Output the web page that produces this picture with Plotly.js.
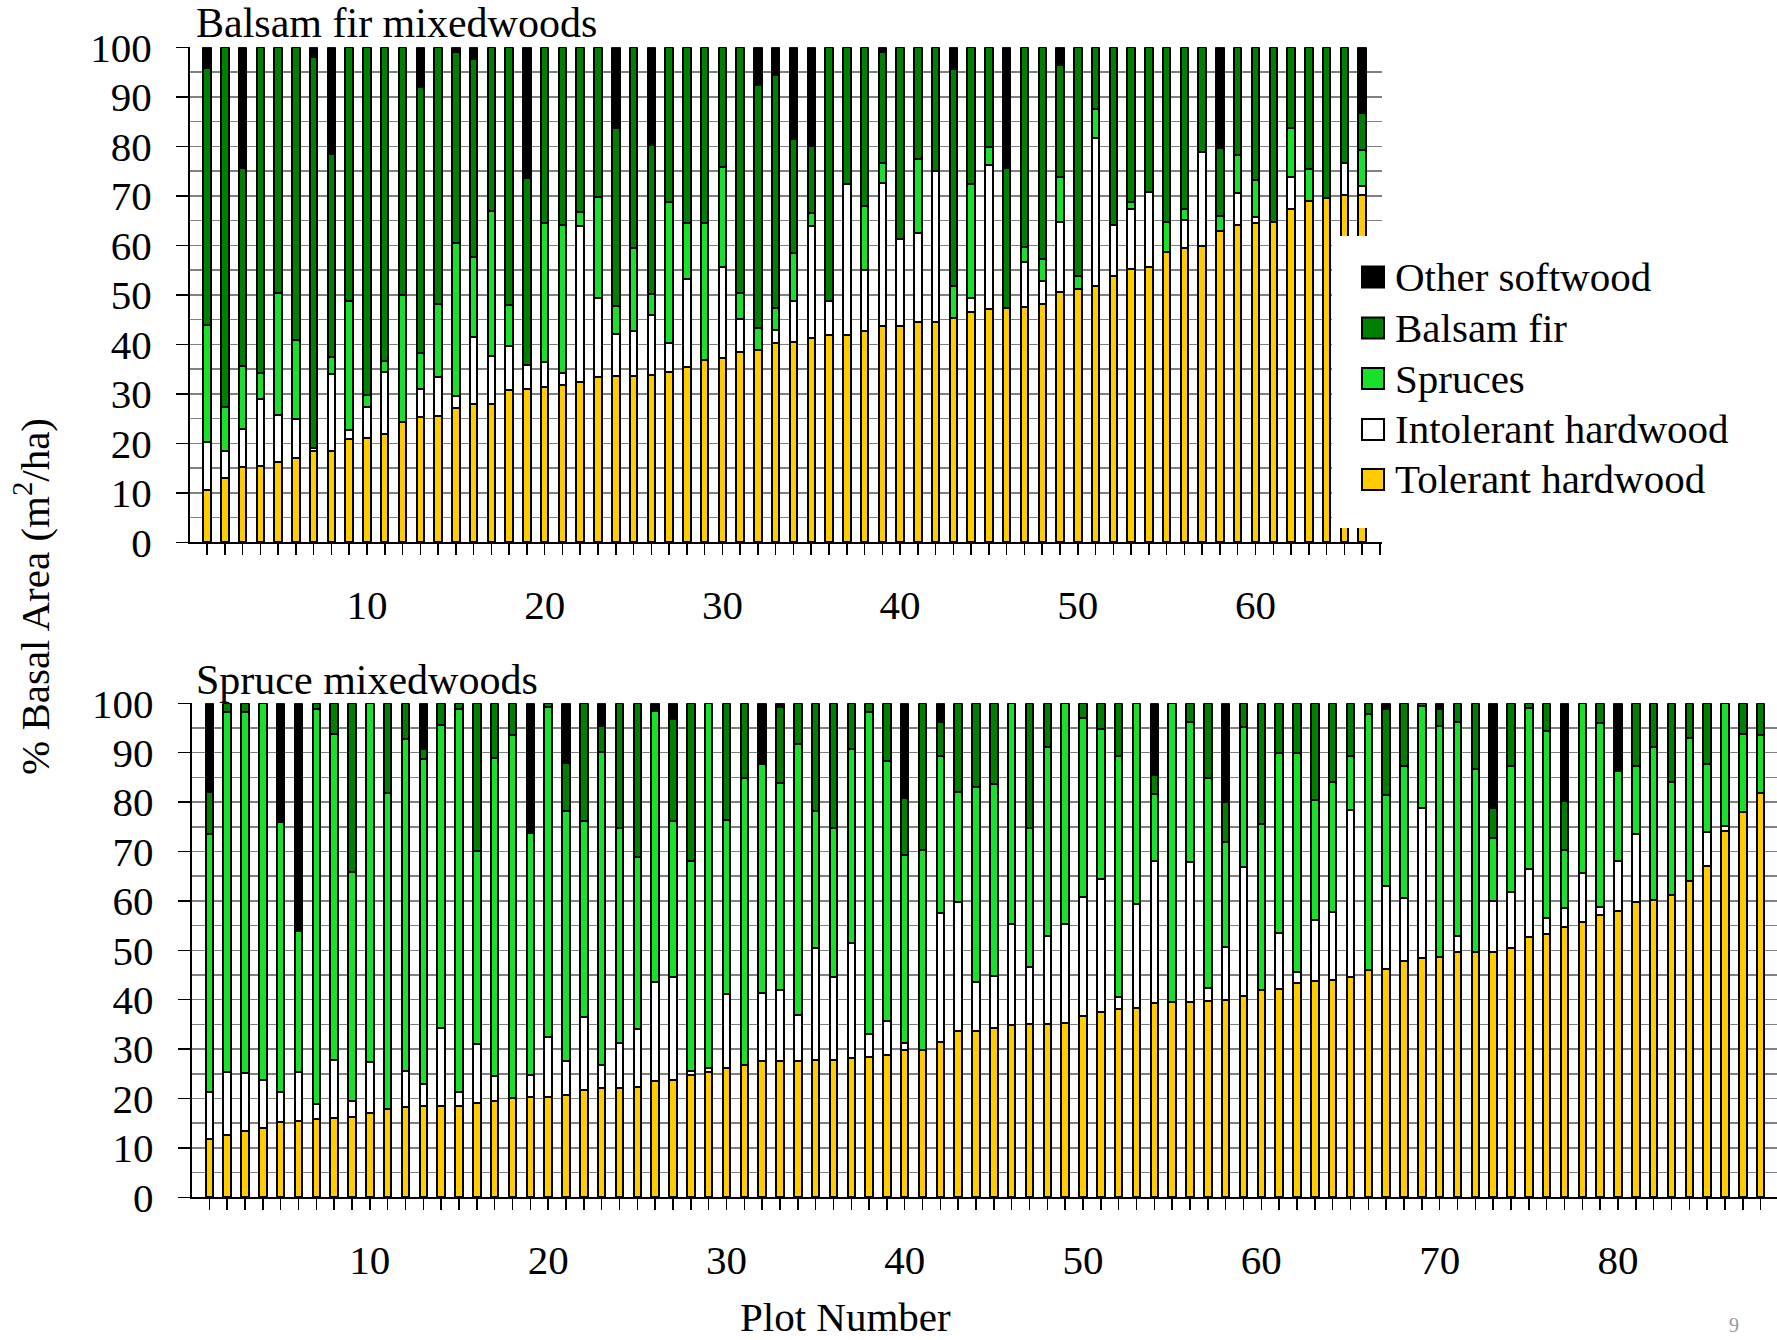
<!DOCTYPE html>
<html>
<head>
<meta charset="utf-8">
<script src="https://cdn.plot.ly/plotly-3.0.1.min.js"></script>
<style>
html, body { margin: 0; padding: 0; background: #ffffff; }
#chart { width: 1777px; height: 1340px; }
</style>
</head>
<body>
<div id="chart"></div>
<script>
// ---------------- DATA ----------------
const speciesNames = ["Tolerant hardwood", "Intolerant hardwood", "Spruces", "Balsam fir", "Other softwood"];

// Balsam fir mixedwoods (66 plots), % basal area per group
const bfTolerant = [10.6,12.9,15.3,15.5,16.3,17.0,18.5,18.5,20.9,21.0, 21.9,24.4,25.4,25.5,27.2,27.9,27.9,30.8,30.9,31.4, 31.8,32.3,33.3,33.6,33.6,33.8,34.5,35.5,36.8,37.3, 38.5,38.9,40.3,40.5,41.3,41.9,41.9,42.7,43.6,43.6, 44.6,44.6,45.3,46.6,47.1,47.4,47.6,48.1,50.6,51.2, 51.8,53.8,55.2,55.7,58.7,59.4,59.9,62.8,64.1,64.6, 64.8,67.3,69.0,69.6,70.2,70.2];
const bfIntolerant = [9.6,5.6,7.5,13.4,9.4,7.9,0.5,15.6,1.8,6.3, 12.6,0,5.5,7.8,2.4,13.6,9.7,8.9,4.9,5.1, 2.5,31.7,16.0,8.5,9.0,12.1,5.7,17.6,0,18.4, 6.6,0,2.6,8.3,22.6,6.9,30.5,12.3,28.9,17.6, 17.8,30.4,0,2.8,29.2,0,9.1,4.6,14.2,0, 29.8,10.3,12.1,15.1,0,5.7,19.0,0,6.5,1.1, 0,6.6,0,0,6.5,1.8];
const bfSpruces = [23.6,8.9,12.8,5.4,24.7,16.0,0,3.4,26.1,2.5, 2.2,25.6,7.4,14.8,30.9,16.2,29.3,8.2,0,28.1, 29.8,2.7,20.5,5.6,16.8,4.3,28.6,11.5,27.8,20.2, 5.3,4.3,4.4,9.6,2.6,0,0,12.9,4.1,0, 15.0,0,6.5,23.0,3.6,0,3.0,4.5,9.1,2.5, 5.9,0,1.5,0,6.1,2.2,0,3.1,7.6,7.4, 0,9.7,6.4,0,0,7.3];
const bfBalsamFir = [52.1,72.6,40.1,65.7,49.6,59.1,79.0,41.0,51.2,70.2, 63.3,50.0,53.6,51.9,38.6,39.9,33.1,52.1,37.7,35.4, 35.9,33.3,30.2,35.9,40.6,30.0,31.2,35.4,35.4,24.1, 49.6,49.2,47.1,23.0,13.6,51.2,27.6,32.1,22.5,38.8, 22.6,25.0,43.8,27.6,20.1,28.3,40.3,42.8,22.5,46.3, 12.5,35.9,31.2,29.2,35.2,32.7,21.1,13.7,21.8,26.9, 35.2,16.4,24.6,30.4,23.3,7.5];
const bfOther = [4.1,0,24.3,0,0,0,2.0,21.5,0,0, 0,0,8.1,0,0.9,2.4,0,0,26.5,0, 0,0,0,16.4,0,19.8,0,0,0,0, 0,7.6,5.6,18.6,19.9,0,0,0,0.9,0, 0,0,4.4,0,0,24.3,0,0,3.6,0, 0,0,0,0,0,0,0,20.4,0,0, 0,0,0,0,0,13.2];

// Spruce mixedwoods (88 plots), % basal area per group
const smTolerant = [11.9,12.6,13.4,14.0,15.2,15.5,15.9,16.1,16.3,17.0, 17.9,18.2,18.4,18.4,18.4,19.0,19.5,20.2,20.4,20.4, 20.7,21.7,22.2,22.2,22.4,23.5,23.8,24.8,25.3,26.2, 26.8,27.6,27.6,27.6,27.8,27.8,28.3,28.5,28.8,29.8, 29.8,31.5,33.7,33.7,34.3,34.9,35.0,35.0,35.2,36.8, 37.6,38.1,38.4,39.3,39.6,39.6,39.7,39.9,40.8,42.0, 42.2,43.3,43.8,44.0,44.5,46.0,46.2,47.8,48.5,48.7, 49.6,49.6,49.7,50.5,52.6,53.3,54.8,55.8,57.2,58.0, 59.7,60.1,61.1,64.0,67.1,74.2,77.9,81.8];
const smIntolerant = [9.5,12.8,11.7,9.8,6.1,9.9,2.9,11.7,3.2,10.3, 0,7.4,4.5,15.8,3.0,12.0,5.1,0,4.4,12.1, 6.9,14.9,4.5,9.0,11.6,20.0,20.7,0.8,0.9,14.9, 0,13.7,14.4,9.4,22.7,16.7,23.1,4.5,6.8,1.4, 0,26.0,26.0,9.8,10.4,20.4,11.7,17.8,20.1,23.9, 26.8,2.5,20.9,28.8,0,28.2,2.6,10.8,26.1,0, 11.4,2.4,12.3,13.8,33.9,0,16.9,12.7,30.4,0, 3.2,0,10.3,11.4,13.9,3.2,3.7,9.8,1.5,10.1, 13.8,0,0,0,6.9,1.0,0,0];
const smSpruces = [52.1,72.9,73.2,76.2,54.7,28.5,80.0,65.9,46.4,72.7, 64.0,67.2,65.8,61.5,77.5,39.1,64.3,73.4,48.9,66.8, 50.6,39.6,63.5,43.5,34.8,54.9,31.7,42.5,73.8,35.3, 58.0,46.4,41.9,54.7,27.6,30.2,39.4,65.3,52.8,38.0, 40.5,31.9,22.4,39.6,38.9,44.7,28.0,38.4,44.7,36.3, 30.3,48.8,40.7,13.5,60.4,28.5,42.5,21.3,28.4,33.5, 36.3,44.2,24.3,26.3,11.0,51.8,18.3,26.9,20.6,46.7, 43.4,37.1,12.7,25.5,32.6,37.9,11.8,34.4,37.3,18.2, 13.8,31.1,23.0,29.0,13.7,24.8,15.9,11.7];
const smBalsamFir = [8.6,1.7,1.7,0,0,0,1.2,6.3,34.1,0, 18.1,7.2,2.0,4.3,1.1,29.9,11.1,6.4,0,0.7, 9.7,23.8,5.3,25.3,31.2,0,20.6,31.9,0,23.6, 15.2,0,15.4,8.3,21.9,25.3,9.2,1.7,11.6,11.7, 29.7,6.8,17.9,16.9,16.4,0,25.3,8.8,0,3.0, 5.3,10.6,0,3.9,0,3.7,15.2,8.1,4.7,24.5, 10.1,10.1,19.6,15.9,10.6,2.2,17.5,12.6,0.5,3.5, 3.8,13.3,6.2,12.6,0.9,5.6,9.9,0,4.0,0, 12.7,8.8,15.9,7.0,12.3,0,6.2,6.5];
const smOther = [17.9,0,0,0,24.0,46.1,0,0,0,0, 0,0,9.3,0,0,0,0,0,26.3,0, 12.1,0,4.5,0,0,1.6,3.2,0,0,0, 0,12.3,0.7,0,0,0,0,0,0,19.1, 0,3.8,0,0,0,0,0,0,0,0, 0,0,0,14.5,0,0,0,19.9,0,0, 0,0,0,0,0,0,1.1,0,0,1.1, 0,0,21.1,0,0,0,19.8,0,0,13.7, 0,0,0,0,0,0,0,0];

const topTickVals = [10, 20, 30, 40, 50, 60];
const bottomTickVals = [10, 20, 30, 40, 50, 60, 70, 80];
const yTickVals = [0, 10, 20, 30, 40, 50, 60, 70, 80, 90, 100];

// ---------------- STYLE ----------------
const speciesColors = ["#FFCC00", "#FFFFFF", "#19E02A", "#007F00", "#000000"];
const FONT = "'Liberation Serif', 'Times New Roman', Times, serif";
const W = 1777, H = 1340;
const px = x => x / W;
const py = y => 1 - y / H;

function buildTraces(groups, xa, ya) {
  const n = groups[0].length;
  const plots = Array.from({length: n}, (_, i) => i + 1);
  return groups.map((vals, k) => ({
    type: "bar",
    name: speciesNames[k],
    x: plots,
    y: vals,
    xaxis: xa,
    yaxis: ya,
    width: 0.42,
    marker: { color: speciesColors[k], line: { color: "#000000", width: 2 } },
    showlegend: false,
    hoverinfo: "skip"
  }));
}

const traces = [
  ...buildTraces([bfTolerant, bfIntolerant, bfSpruces, bfBalsamFir, bfOther], "x", "y"),
  ...buildTraces([smTolerant, smIntolerant, smSpruces, smBalsamFir, smOther], "x2", "y2")
];

function xAxis(domain, range, tickvals, anchor) {
  return {
    domain: domain, range: range, anchor: anchor,
    tickvals: tickvals, ticktext: tickvals.map(String),
    ticks: "outside", ticklen: 11, tickwidth: 1.5, tickcolor: "#000",
    minor: { dtick: 1, tick0: 0, ticks: "outside", ticklen: 11, tickwidth: 1.5, tickcolor: "#000", showgrid: false },
    showline: true, linecolor: "#000", linewidth: 2,
    showgrid: false, zeroline: false,
    tickfont: { family: FONT, size: 41, color: "#000" },
    ticklabelstandoff: 14,
    fixedrange: true
  };
}
function yAxis(domain, anchor) {
  return {
    domain: domain, range: [0, 100], anchor: anchor,
    tickvals: yTickVals, ticktext: yTickVals.map(String),
    ticks: "outside", ticklen: 12, tickwidth: 1.5, tickcolor: "#000",
    showline: true, linecolor: "#000", linewidth: 2,
    showgrid: true, gridcolor: "#808080", gridwidth: 1.5,
    minor: { dtick: 5, showgrid: true, gridcolor: "#808080", gridwidth: 1.5 },
    zeroline: false,
    tickfont: { family: FONT, size: 41, color: "#000" },
    ticklabelstandoff: 16,
    fixedrange: true
  };
}

// custom legend (swatches + labels), top to bottom
const legendOrder = [4, 3, 2, 1, 0];
const legendRowY = [277, 328, 378.5, 429.5, 479.5];
const shapes = [
  { type: "rect", xref: "paper", yref: "paper", x0: px(1332), x1: px(1777), y0: py(528), y1: py(236),
    fillcolor: "#FFFFFF", line: { width: 0 }, layer: "above" }
];
const annotations = [];
legendOrder.forEach((k, i) => {
  const cy = legendRowY[i];
  shapes.push({ type: "rect", xref: "paper", yref: "paper",
    x0: px(1362), x1: px(1384), y0: py(cy + 10.5), y1: py(cy - 10.5),
    fillcolor: speciesColors[k], line: { color: "#000", width: 2 }, layer: "above" });
  annotations.push({ xref: "paper", yref: "paper", x: px(1393), y: py(cy), xanchor: "left", yanchor: "middle",
    text: speciesNames[k], showarrow: false, font: { family: FONT, size: 41, color: "#000" } });
});

annotations.push(
  { xref: "paper", yref: "paper", x: px(194), y: py(23), xanchor: "left", yanchor: "middle",
    text: "Balsam fir mixedwoods", showarrow: false, font: { family: FONT, size: 42, color: "#000" } },
  { xref: "paper", yref: "paper", x: px(194), y: py(680), xanchor: "left", yanchor: "middle",
    text: "Spruce mixedwoods", showarrow: false, font: { family: FONT, size: 42, color: "#000" } },
  { xref: "paper", yref: "paper", x: px(32), y: py(597), xanchor: "center", yanchor: "middle", textangle: -90,
    text: "% Basal Area (m<sup>2</sup>/ha)", showarrow: false, font: { family: FONT, size: 41, color: "#000" } },
  { xref: "paper", yref: "paper", x: px(845), y: py(1317), xanchor: "center", yanchor: "middle",
    text: "Plot Number", showarrow: false, font: { family: FONT, size: 41, color: "#000" } },
  { xref: "paper", yref: "paper", x: px(1734), y: py(1312), xanchor: "center", yanchor: "top",
    text: "9", showarrow: false, font: { family: FONT, size: 20, color: "#9a9a9a" } }
);

const layout = {
  width: W, height: H,
  margin: { l: 0, r: 0, t: 0, b: 0 },
  paper_bgcolor: "#FFFFFF", plot_bgcolor: "#FFFFFF",
  barmode: "stack",
  showlegend: false,
  font: { family: FONT, color: "#000" },
  xaxis: xAxis([px(190), px(1382)], [0.04, 67.12], topTickVals, "y"),
  yaxis: yAxis([py(542.3), py(47.3)], "x"),
  xaxis2: xAxis([px(191.7), 1], [0.01, 88.92], bottomTickVals, "y2"),
  yaxis2: yAxis([py(1197.3), py(703.3)], "x2"),
  shapes: shapes,
  annotations: annotations
};

Plotly.newPlot("chart", traces, layout, { staticPlot: true, displayModeBar: false });
</script>
</body>
</html>
